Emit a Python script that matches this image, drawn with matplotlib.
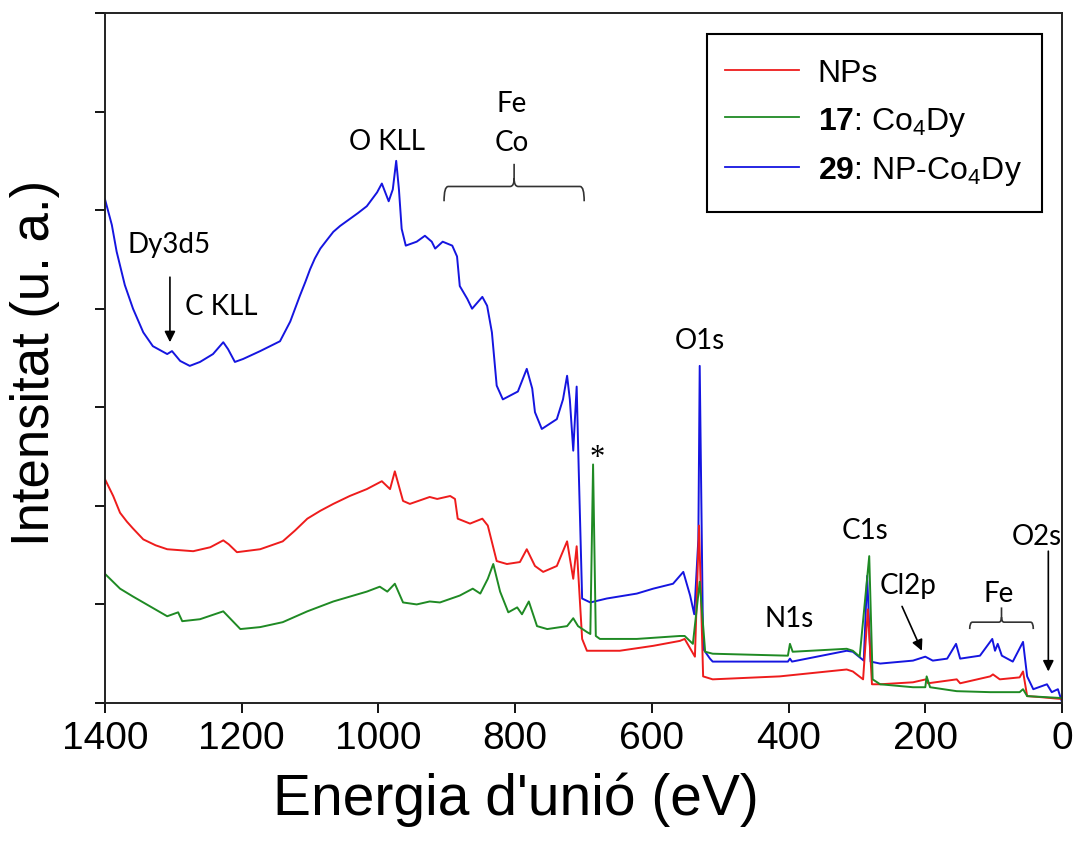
import matplotlib
matplotlib.use("Agg")
import matplotlib.pyplot as plt
from matplotlib.path import Path
from matplotlib.patches import PathPatch, Rectangle

plt.rcParams["font.family"] = ["Liberation Sans", "DejaVu Sans"]
plt.rcParams["mathtext.fontset"] = "custom"
plt.rcParams["mathtext.rm"] = "Liberation Sans"
plt.rcParams["mathtext.bf"] = "Liberation Sans:bold"
plt.rcParams["mathtext.it"] = "Liberation Sans:italic"

# (binding energy eV, intensity a.u.)
blue_29 = [
    (1400, 511), (1390, 485), (1383, 458), (1371, 424), (1359, 400), (1344, 376),
    (1330, 362), (1309, 354), (1302, 357), (1290, 347), (1276, 342), (1261, 346),
    (1242, 354), (1227, 366), (1220, 359), (1210, 346), (1198, 349), (1173, 357),
    (1144, 367), (1129, 387), (1122, 400), (1115, 413), (1107, 427), (1100, 440),
    (1093, 451), (1085, 461), (1075, 470), (1066, 478), (1056, 484), (1042, 491),
    (1030, 497), (1017, 504), (1002, 518), (995, 527), (985, 509), (979, 521),
    (974, 550), (970, 521), (966, 481), (960, 464), (944, 468), (932, 474),
    (922, 468), (917, 461), (906, 468), (892, 464), (885, 453), (881, 423),
    (870, 410), (863, 400), (848, 412), (841, 403), (834, 376), (827, 322),
    (818, 308), (796, 316), (783, 339), (775, 319), (771, 295), (761, 278),
    (739, 288), (730, 308), (724, 332), (720, 308), (715, 256), (710, 321),
    (707, 237), (702, 106), (690, 102), (666, 106), (622, 111), (598, 116),
    (569, 121), (554, 133), (544, 109), (538, 90), (532, 166), (530, 342),
    (525, 55), (515, 45), (511, 42), (401, 42), (398, 45), (395, 42),
    (315, 53), (306, 52), (290, 43), (285, 129), (280, 42), (266, 40),
    (218, 43), (200, 47), (189, 43), (168, 45), (155, 60), (149, 45),
    (120, 48), (102, 65), (98, 53), (94, 60), (88, 48), (72, 42),
    (57, 62), (51, 27), (42, 14), (22, 19), (15, 11), (6, 14), (0, 1),
]
red_nps = [
    (1400, 227), (1388, 210), (1378, 193), (1368, 184), (1359, 177), (1344, 166),
    (1326, 160), (1309, 156), (1271, 154), (1246, 158), (1227, 165), (1219, 161),
    (1207, 153), (1173, 156), (1140, 164), (1122, 175), (1104, 187), (1085, 195),
    (1066, 202), (1042, 210), (1017, 217), (995, 225), (983, 217), (976, 235),
    (964, 205), (954, 202), (925, 209), (914, 207), (895, 210), (888, 207),
    (884, 187), (866, 182), (848, 187), (840, 180), (827, 144), (812, 141),
    (793, 143), (783, 156), (771, 139), (759, 133), (739, 139), (724, 164),
    (715, 126), (710, 159), (702, 65), (695, 53), (647, 53), (598, 58),
    (559, 63), (552, 65), (537, 47), (531, 180), (525, 27), (511, 24),
    (413, 27), (315, 34), (306, 32), (291, 24), (284, 95), (278, 19),
    (266, 19), (218, 21), (199, 24), (196, 20), (154, 24), (149, 20),
    (105, 27), (101, 29), (91, 24), (62, 26), (57, 32), (51, 7),
    (32, 6), (0, 4),
]
green_17 = [
    (1400, 131), (1378, 116), (1359, 108), (1334, 98), (1309, 88), (1293, 92),
    (1287, 83), (1261, 85), (1227, 93), (1202, 75), (1173, 77), (1140, 82),
    (1104, 93), (1066, 103), (1017, 113), (998, 118), (987, 113), (976, 121),
    (964, 102), (944, 100), (925, 103), (910, 102), (881, 109), (862, 116),
    (851, 111), (840, 126), (832, 141), (822, 113), (810, 92), (797, 97),
    (790, 90), (780, 103), (768, 78), (753, 75), (724, 78), (715, 86),
    (708, 78), (695, 72), (690, 70), (686, 242), (682, 68), (676, 65),
    (622, 65), (559, 68), (552, 68), (540, 60), (530, 123), (522, 52),
    (511, 50), (401, 48), (398, 60), (394, 52), (315, 55), (306, 53),
    (296, 47), (282, 149), (277, 24), (266, 19), (218, 16), (200, 16),
    (198, 27), (193, 16), (154, 12), (105, 11), (62, 11), (57, 14),
    (51, 7), (0, 5),
]

labels = ["NPs", r"$\mathbf{17}$: Co$_4$Dy", r"$\mathbf{29}$: NP-Co$_4$Dy"]
colors = ["#ee1c1c", "#1f8a24", "#1515e0"]

x_ticks = [0, 200, 400, 600, 800, 1000, 1200, 1400]
y_ticks = [0, 100, 200, 300, 400, 500, 600, 700]

ann_font = ["Lato", "DejaVu Sans"]


def brace(ax, x0, x1, y_end, y_mid, y_tip, r, h):
    """Horizontal curly bracket from x0 to x1 with a centre tick."""
    xc = (x0 + x1) / 2
    s = -1 if x1 < x0 else 1
    verts = [
        (x0, y_end), (x0, y_mid), (x0 + s * r, y_mid),
        (xc - s * r, y_mid), (xc, y_mid), (xc, y_mid + h), (xc, y_tip),
        (xc, y_mid + h), (xc, y_mid), (xc + s * r, y_mid),
        (x1 - s * r, y_mid), (x1, y_mid), (x1, y_end),
    ]
    codes = [
        Path.MOVETO, Path.CURVE3, Path.CURVE3,
        Path.LINETO, Path.CURVE3, Path.CURVE3, Path.LINETO,
        Path.MOVETO, Path.CURVE3, Path.CURVE3,
        Path.LINETO, Path.CURVE3, Path.CURVE3,
    ]
    ax.add_patch(PathPatch(Path(verts, codes), fill=False,
                           edgecolor="#333333", lw=1.2))


def arrow(ax, start, tip):
    ax.annotate("", xy=tip, xytext=start,
                arrowprops=dict(arrowstyle="-|>", color="black", lw=1.2,
                                mutation_scale=16, shrinkA=0, shrinkB=0))


fig = plt.figure(figsize=(10.79, 8.62), dpi=100)
ax = fig.add_axes([105 / 1079, 1 - 704 / 862, 957 / 1079, 690 / 862])

lines = {}
for name, data, col in [("29", blue_29, colors[2]),
                        ("NPs", red_nps, colors[0]),
                        ("17", green_17, colors[1])]:
    xs = [p[0] for p in data]
    ys = [p[1] for p in data]
    lines[name], = ax.plot(xs, ys, color=col, lw=1.4)

ax.set_xlim(1400, 0)
ax.set_ylim(0, 700)
ax.set_xticks(x_ticks)
ax.set_yticks(y_ticks)
ax.set_yticklabels([])
ax.tick_params(direction="out", length=7, width=1.3, labelsize=28, pad=5)
for sp in ax.spines.values():
    sp.set_linewidth(1.4)
    sp.set_color("#222222")

fig.text(516 / 1079, 1 - 800 / 862, "Energia d'unió (eV)", fontsize=41,
         ha="center", va="center")
fig.text(35 / 1079, 1 - 363 / 862, "Intensitat (u. a.)", fontsize=38,
         rotation=90, ha="center", va="center")

# legend: own box, entries placed inside it
ax.add_patch(Rectangle((0.629, 0.7116), 0.35, 0.258, transform=ax.transAxes,
                       fill=True, facecolor="white", edgecolor="black",
                       lw=1.5, zorder=4))
leg = ax.legend([lines["NPs"], lines["17"], lines["29"]], labels,
                loc="upper left", bbox_to_anchor=(0.648, 0.9348),
                borderaxespad=0, borderpad=0, fontsize=23, frameon=False,
                handlelength=2.3, handletextpad=0.6, labelspacing=0.52)
leg.set_zorder(5)
for ln in leg.get_lines():
    ln.set_linewidth(1.3)

# peak labels
tk = dict(fontsize=20, family=ann_font, ha="center", va="center")
ax.text(1306, 466, "Dy3d5", **tk)
ax.text(1230, 403, "C KLL", **tk)
ax.text(987, 570, "O KLL", **tk)
ax.text(805, 609, "Fe", **tk)
ax.text(805, 569, "Co", **tk)
ax.text(530, 368, "O1s", **tk)
ax.text(399, 86, "N1s", **tk)
ax.text(288, 176, "C1s", **tk)
ax.text(225, 120, "Cl2p", **tk)
ax.text(92, 112, "Fe", **tk)
ax.text(37, 169, "O2s", **tk)
ax.text(680, 249, "*", fontsize=22, family="Liberation Serif",
        ha="center", va="center")

arrow(ax, (1305, 432), (1305, 366))
arrow(ax, (234, 98), (205, 53))
arrow(ax, (20, 154), (20, 32))

brace(ax, 904, 699, 509, 524, 547, 6, 8)
brace(ax, 135, 42, 75, 82, 97, 4, 5)

fig.savefig("out.png", dpi=100)
